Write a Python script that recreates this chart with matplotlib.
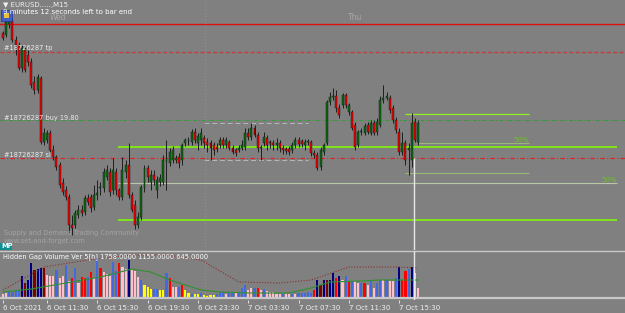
import matplotlib
matplotlib.use("Agg")
import matplotlib.pyplot as plt
from matplotlib.patches import Rectangle

W, H = 625, 313
BG = "#808080"

# EURUSD M15, bar 0 = 6 Oct 2021 08:00
opens = [1.15967, 1.15965, 1.15976, 1.15979, 1.15960, 1.15955, 1.15932, 1.15950, 1.15945, 1.15938,
         1.15918, 1.15910, 1.15922, 1.15858, 1.15860, 1.15867, 1.15850, 1.15843, 1.15835, 1.15817,
         1.15810, 1.15803, 1.15775, 1.15775, 1.15785, 1.15790, 1.15788, 1.15802, 1.15803, 1.15793,
         1.15805, 1.15812, 1.15812, 1.15823, 1.15828, 1.15810, 1.15828, 1.15810, 1.15803, 1.15828,
         1.15835, 1.15805, 1.15795, 1.15775, 1.15783, 1.15812, 1.15832, 1.15818, 1.15825, 1.15810,
         1.15818, 1.15818, 1.15838, 1.15837, 1.15840, 1.15840, 1.15843, 1.15840, 1.15857, 1.15859,
         1.15858, 1.15868, 1.15857, 1.15860, 1.15862, 1.15858, 1.15857, 1.15855, 1.15853, 1.15855,
         1.15860, 1.15855, 1.15858, 1.15852, 1.15850, 1.15850, 1.15852, 1.15853, 1.15867, 1.15863,
         1.15872, 1.15865, 1.15852, 1.15857, 1.15862, 1.15858, 1.15857, 1.15855, 1.15857, 1.15852,
         1.15851, 1.15851, 1.15850, 1.15855, 1.15860, 1.15859, 1.15855, 1.15858, 1.15858, 1.15847,
         1.15845, 1.15833, 1.15848, 1.15857, 1.15898, 1.15903, 1.15904, 1.15892, 1.15895, 1.15905,
         1.15888, 1.15888, 1.15875, 1.15855, 1.15868, 1.15867, 1.15875, 1.15867, 1.15877, 1.15868,
         1.15875, 1.15900, 1.15902, 1.15902, 1.15892, 1.15880, 1.15868, 1.15848, 1.15857, 1.15850,
         1.15840, 1.15878, 1.15858]
highs = [1.15969, 1.15981, 1.15983, 1.15982, 1.15964, 1.15958, 1.15955, 1.15953, 1.15950, 1.15942,
         1.15924, 1.15926, 1.15924, 1.15872, 1.15870, 1.15870, 1.15855, 1.15845, 1.15838, 1.15822,
         1.15814, 1.15806, 1.15785, 1.15790, 1.15795, 1.15795, 1.15805, 1.15806, 1.15806, 1.15815,
         1.15820, 1.15818, 1.15832, 1.15835, 1.15832, 1.15842, 1.15832, 1.15812, 1.15843, 1.15840,
         1.15857, 1.15808, 1.15800, 1.15788, 1.15815, 1.15835, 1.15835, 1.15830, 1.15830, 1.15824,
         1.15826, 1.15845, 1.15860, 1.15852, 1.15854, 1.15845, 1.15847, 1.15857, 1.15862, 1.15863,
         1.15871, 1.15872, 1.15867, 1.15872, 1.15865, 1.15862, 1.15860, 1.15858, 1.15857, 1.15863,
         1.15863, 1.15863, 1.15860, 1.15855, 1.15852, 1.15855, 1.15860, 1.15872, 1.15872, 1.15877,
         1.15875, 1.15868, 1.15855, 1.15868, 1.15865, 1.15860, 1.15860, 1.15862, 1.15860, 1.15855,
         1.15853, 1.15854, 1.15858, 1.15863, 1.15863, 1.15861, 1.15861, 1.15861, 1.15860, 1.15850,
         1.15848, 1.15853, 1.15857, 1.15900, 1.15908, 1.15912, 1.15910, 1.15896, 1.15907, 1.15907,
         1.15897, 1.15890, 1.15878, 1.15870, 1.15872, 1.15877, 1.15878, 1.15880, 1.15880, 1.15882,
         1.15904, 1.15915, 1.15908, 1.15905, 1.15895, 1.15883, 1.15872, 1.15868, 1.15860, 1.15857,
         1.15887, 1.15882, 1.15880]
lows = [1.15960, 1.15963, 1.15972, 1.15958, 1.15945, 1.15930, 1.15928, 1.15928, 1.15934, 1.15912,
        1.15906, 1.15907, 1.15856, 1.15855, 1.15857, 1.15848, 1.15840, 1.15830, 1.15812, 1.15805,
        1.15800, 1.15768, 1.15765, 1.15772, 1.15782, 1.15784, 1.15785, 1.15795, 1.15788, 1.15790,
        1.15800, 1.15805, 1.15808, 1.15820, 1.15804, 1.15806, 1.15805, 1.15800, 1.15800, 1.15822,
        1.15802, 1.15788, 1.15771, 1.15772, 1.15780, 1.15808, 1.15818, 1.15810, 1.15815, 1.15802,
        1.15814, 1.15815, 1.15810, 1.15834, 1.15837, 1.15837, 1.15832, 1.15835, 1.15854, 1.15855,
        1.15855, 1.15857, 1.15850, 1.15855, 1.15852, 1.15848, 1.15840, 1.15845, 1.15848, 1.15852,
        1.15852, 1.15852, 1.15850, 1.15846, 1.15844, 1.15848, 1.15850, 1.15850, 1.15860, 1.15860,
        1.15863, 1.15848, 1.15840, 1.15854, 1.15850, 1.15852, 1.15850, 1.15850, 1.15848, 1.15846,
        1.15846, 1.15845, 1.15847, 1.15852, 1.15853, 1.15853, 1.15850, 1.15855, 1.15844, 1.15842,
        1.15830, 1.15830, 1.15845, 1.15855, 1.15895, 1.15900, 1.15888, 1.15882, 1.15892, 1.15892,
        1.15885, 1.15870, 1.15850, 1.15853, 1.15865, 1.15865, 1.15866, 1.15865, 1.15865, 1.15865,
        1.15873, 1.15897, 1.15900, 1.15887, 1.15877, 1.15867, 1.15845, 1.15845, 1.15835, 1.15825,
        1.15833, 1.15858, 1.15855]
closes = [1.15962, 1.15978, 1.15980, 1.15960, 1.15955, 1.15932, 1.15952, 1.15930, 1.15938, 1.15915,
          1.15910, 1.15923, 1.15858, 1.15867, 1.15867, 1.15850, 1.15843, 1.15833, 1.15815, 1.15808,
          1.15803, 1.15775, 1.15772, 1.15787, 1.15790, 1.15787, 1.15802, 1.15798, 1.15792, 1.15805,
          1.15807, 1.15813, 1.15828, 1.15830, 1.15808, 1.15830, 1.15810, 1.15803, 1.15830, 1.15835,
          1.15805, 1.15790, 1.15775, 1.15783, 1.15813, 1.15832, 1.15823, 1.15825, 1.15820, 1.15820,
          1.15822, 1.15840, 1.15842, 1.15848, 1.15850, 1.15842, 1.15837, 1.15855, 1.15860, 1.15860,
          1.15868, 1.15860, 1.15864, 1.15867, 1.15857, 1.15855, 1.15852, 1.15850, 1.15851, 1.15860,
          1.15855, 1.15860, 1.15852, 1.15848, 1.15847, 1.15852, 1.15855, 1.15867, 1.15863, 1.15872,
          1.15865, 1.15852, 1.15853, 1.15863, 1.15855, 1.15857, 1.15855, 1.15857, 1.15852, 1.15850,
          1.15849, 1.15848, 1.15855, 1.15860, 1.15856, 1.15856, 1.15858, 1.15859, 1.15847, 1.15845,
          1.15832, 1.15850, 1.15855, 1.15898, 1.15903, 1.15904, 1.15892, 1.15885, 1.15905, 1.15895,
          1.15895, 1.15872, 1.15853, 1.15868, 1.15869, 1.15874, 1.15868, 1.15877, 1.15867, 1.15878,
          1.15900, 1.15902, 1.15904, 1.15890, 1.15880, 1.15870, 1.15848, 1.15857, 1.15840, 1.15852,
          1.15877, 1.15860, 1.15877]

# Hidden Gap Volume histogram (value, colour code per bar)
volumes = [200, 250, 300, 300, 400, 400, 1100, 750, 900, 1750,
           1400, 1450, 1500, 1500, 1150, 1100, 1100, 1400, 1000, 1100,
           1650, 850, 1000, 1500, 750, 1050, 1000, 1050, 1300, 1000,
           2000, 1500, 1300, 1200, 1100, 1800, 1350, 1750, 1550, 1450,
           1900, 1400, 1350, 1050, 900, 650, 550, 450, 450, 450,
           400, 400, 1250, 1000, 550, 550, 550, 650, 400, 250,
           200, 200, 200, 250, 150, 100, 150, 150, 200, 300,
           300, 200, 250, 250, 300, 300, 500, 650, 400, 500,
           500, 500, 400, 450, 350, 300, 300, 200, 200, 200,
           200, 200, 200, 200, 250, 250, 250, 300, 250, 400,
           900, 650, 900, 900, 900, 1250, 1000, 1100, 900, 1100,
           850, 850, 850, 750, 750, 750, 650, 900, 500, 750,
           900, 900, 900, 850, 850, 1000, 1550, 900, 1350, 1450,
           1550, 1250, 500]
vol_codes = ("ppbbbbnmnn" "mnnmpppbpp" "bprbprrbrp" "brpppbbrpp" "npppbyyybb"
             "yybrppbryy" "byybyyyybb" "bpbbpbbbpp" "brpbpppppb" "ppbpbbbbbr"
             "nmnmnnrnpb" "rbppbrpbpb" "bpbppbnrrb" "npp")
vol_palette = {"b": "#4169e1", "n": "#000080", "r": "#ff0000",
               "m": "#800000", "p": "#ffc0cb", "y": "#ffff00"}

ma_bars = [0, 9, 20, 31, 41, 47, 53, 63, 69, 79, 91, 98, 104, 114, 120, 132]
ma_vals = [300, 450, 750, 1050, 1450, 1300, 900, 400, 300, 250, 250, 500, 800, 850, 900, 900]
avg_bars = [0, 13, 27, 41, 52, 63, 75, 88, 98, 110, 126, 132]
avg_vals = [400, 1550, 1900, 2150, 2150, 1900, 800, 750, 900, 1550, 1550, 1500]

tick_bars = [0, 14, 30, 46, 62, 78, 94, 110, 126]
tick_labels = ["6 Oct 2021", "6 Oct 11:30", "6 Oct 15:30", "6 Oct 19:30", "6 Oct 23:30",
               "7 Oct 03:30", "7 Oct 07:30", "7 Oct 11:30", "7 Oct 15:30"]

# trade levels and zones
red_level = 1.15976
tp_level = 1.15948
buy_level = 1.15880
sl_level = 1.15842
asia_levels = [1.15877, 1.15840]
asia_bars = (64, 97)
zone_big = [1.15853, 1.15817, 1.15780]
zone_big_bars = (36.6, 195.3)
zone_small = [1.15886, 1.15857, 1.15827]
zone_small_bars = (127.9, 167.3)
day_sep_bar = 64.2
now_bar = 131

XL = (-3 / 3.144, 622 / 3.144)

fig = plt.figure(figsize=(W / 100, H / 100), dpi=100, facecolor=BG)
ax = fig.add_axes([0, 1 - 250 / H, 1, 250 / H])
ax2 = fig.add_axes([0, 13 / H, 1, 49 / H])
for a in (ax, ax2):
    a.set_facecolor(BG)
    a.set_xlim(*XL)
    for s in a.spines.values():
        s.set_visible(False)
ax.set_ylim(1.15750, 1.16000)
ax.set_xticks([]); ax.set_yticks([])

# levels
ax.axhline(red_level, color="#e01010", lw=1.0)
ax.axhline(tp_level, color="#c04040", lw=1.0, ls=(0, (3, 1.5)))
ax.axhline(buy_level, color="#30a030", lw=0.7, ls=(0, (4, 2, 1, 2)))
ax.axhline(sl_level, color="#e02020", lw=0.8, ls=(0, (4, 2, 1, 2)))
ax.hlines(asia_levels, *asia_bars, color="#b8b8b8", lw=0.7, ls=(0, (5, 3)))
ax.axvline(day_sep_bar, color="#9a9a9a", lw=0.6, ls=(0, (1, 3)))

ax.hlines([zone_big[0], zone_big[2]], *zone_big_bars, color="#80ff00", lw=1.1)
ax.hlines(zone_big[1], *zone_big_bars, color="#b8c8a8", lw=0.8)
ax.hlines(zone_small[0], *zone_small_bars, color="#90f020", lw=0.9)
ax.hlines(zone_small[1], now_bar + 1, zone_small_bars[1], color="#98b878", lw=0.8)
ax.hlines(zone_small[2], *zone_small_bars, color="#98b878", lw=0.8)
ax.text(zone_small_bars[1], zone_small[1], "50%", color="#70c030", fontsize=5,
        ha="right", va="bottom")
ax.text(zone_big_bars[1], zone_big[1], "50%", color="#70c030", fontsize=5,
        ha="right", va="bottom")

# candles
for i in range(len(opens)):
    o, h, l, c = opens[i], highs[i], lows[i], closes[i]
    ax.vlines(i, l, h, color="#1e1e1e", lw=0.7, zorder=3)
    bull = c >= o
    ax.bar(i, max(abs(c - o), 0.000008), bottom=min(o, c), width=0.62,
           color="#0b6a10" if bull else "#f00000", edgecolor="#151515",
           lw=0.3, zorder=4)

ax.vlines(now_bar - 0.3, 1.15750, sl_level, color="#e8e8e8", lw=1.0, zorder=5)

# indicator window
ax2.set_ylim(-100, 2350)
cols = [vol_palette[k] for k in vol_codes]
ax2.bar(range(len(volumes)), volumes, width=0.68, color=cols, zorder=2)
ax2.plot(ma_bars, ma_vals, color="#2f8f2f", lw=0.8, zorder=3)
ax2.plot(avg_bars, avg_vals, color="#8b3030", lw=0.8, ls=(0, (1, 1.5)), zorder=3)
ax2.axhline(0, color="#c8c8c8", lw=1.6, zorder=4)
ax2.axvline(day_sep_bar, color="#9a9a9a", lw=0.6, ls=(0, (1, 3)))
ax2.axvline(now_bar - 0.3, color="#e8e8e8", lw=1.0, zorder=5)
ax2.spines["top"].set_visible(True)
ax2.spines["top"].set_color("#c8c8c8")
ax2.spines["top"].set_linewidth(1.0)
ax2.set_yticks([])
ax2.set_xticks(tick_bars)
ax2.set_xticklabels(tick_labels, ha="left")
ax2.tick_params(axis="x", colors="#f0f0f0", labelsize=5, length=2, pad=1.5, width=0.6)


def ftext(x, y, s, **kw):
    fig.text(x / W, 1 - y / H, s, va="center", ha="left", **kw)


ftext(3, 5, "\u25bc EURUSD.....,M15", color="#f0f0f0", fontsize=5)
ftext(3, 12, "9 minutes 12 seconds left to bar end", color="#ffffff", fontsize=5)
ftext(50, 18, "Wed", color="#a8a8a8", fontsize=5.5)
ftext(348, 18, "Thu", color="#a8a8a8", fontsize=5.5)
ftext(4, 48, "#18726287 tp", color="#ececec", fontsize=4.8)
ftext(4, 118, "#18726287 buy 19.80", color="#ececec", fontsize=4.8)
ftext(4, 155, "#18726287 sl", color="#ececec", fontsize=4.8)
ftext(4, 233, "Supply and Demand Trading Community", color="#a4a4a4", fontsize=4.8)
ftext(4, 241, "www.set-and-forget.com", color="#a4a4a4", fontsize=4.8)
ftext(3, 257, "Hidden Gap Volume Ver 5[h] 1758.0000 1155.0000 645.0000",
      color="#ffffff", fontsize=4.8)

fig.add_artist(Rectangle((1 / W, 1 - 21 / H), 11 / W, 11 / H, transform=fig.transFigure,
                         facecolor="#4060c8", edgecolor="#2030a0", lw=0.5))
fig.add_artist(Rectangle((4 / W, 1 - 18 / H), 5 / W, 5 / H, transform=fig.transFigure,
                         facecolor="#e8c040", edgecolor="none"))
fig.add_artist(Rectangle((0, 1 - 250 / H), 12 / W, 7 / H, transform=fig.transFigure,
                         facecolor="#0f8f8f", edgecolor="none"))
ftext(1, 246.5, "MP", color="#ffffff", fontsize=4.8, fontweight="bold")

fig.savefig("out.png", dpi=100, facecolor=BG)
